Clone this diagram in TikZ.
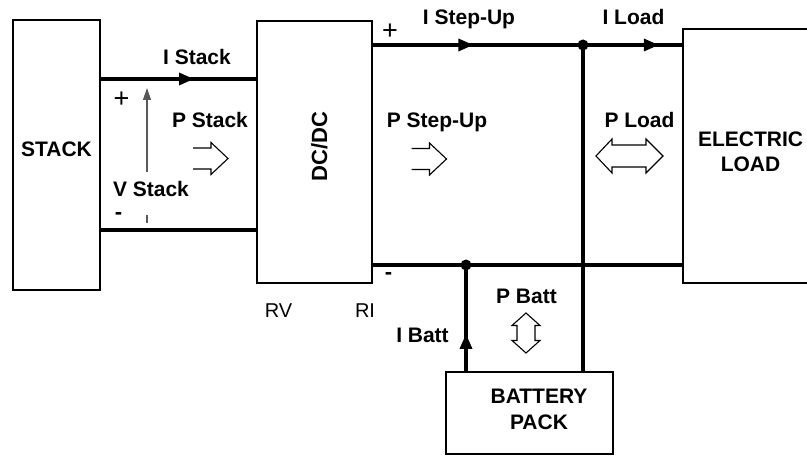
\documentclass[tikz,border=0pt]{standalone}
\usepackage{fontspec}
\setmainfont{Liberation Sans}
\usetikzlibrary{arrows.meta,decorations.markings}
\begin{document}
\begin{tikzpicture}[x=1pt,y=-1pt,
  box/.style={draw,line width=2pt,inner sep=0pt},
  wire/.style={line width=3.2pt},
  lbl/.style={font=\fontsize{21}{25}\selectfont\bfseries,anchor=base,inner sep=0pt},
  rlbl/.style={font=\fontsize{20}{24}\selectfont,anchor=base,inner sep=0pt},
  sgn/.style={font=\fontsize{27}{30}\selectfont,anchor=center,inner sep=0pt},
  msgn/.style={font=\fontsize{22}{26}\selectfont\bfseries,anchor=center,inner sep=0pt},
  dot/.style={circle,fill,inner sep=0pt,minimum size=11pt},
  tipat/.style={postaction={decorate},decoration={markings,mark=at position #1 with {\arrow{Triangle[length=15pt,width=12pt]}}}},
  hollow/.style={line width=1.1pt,line join=miter},
  thinv/.style={line width=1.1pt,black!65},
  pics/rarrow/.style={code={\draw[hollow] (0,-10.5) -- (18,-10.5) -- (18,-16) -- (35,0) -- (18,16) -- (18,10.5) -- (0,10.5);}}
]
\useasboundingbox (0,0) rectangle (807,457);
\clip (0,0) rectangle (807,457);

% boxes
\node[box,minimum width=87,minimum height=270] (stack) at (56.5,155) {};
\node[box,minimum width=115,minimum height=262] (dcdc) at (314.5,152) {};
\node[box,minimum width=134,minimum height=254] (load) at (750,156) {};
\node[box,minimum width=167,minimum height=82] (batt) at (529.5,413) {};

% box texts
\node[lbl] (tstack) at (56.5,157) {STACK};
\node[lbl,font=\fontsize{22}{26}\selectfont\bfseries,rotate=90,anchor=base] (tdcdc) at (327,146.5) {DC/DC};
\node[lbl] (tload1) at (750.5,147) {ELECTRIC};
\node[lbl] (tload2) at (750.5,172) {LOAD};
\node[lbl] (tbatt1) at (539,403) {BATTERY};
\node[lbl] (tbatt2) at (539,429) {PACK};

% junctions
\node[dot] (j1) at (583,45) {};
\node[dot] (j2) at (466,265) {};

% wires
\draw[wire,tipat=0.6] (stack.east |- 0,79) -- (dcdc.west |- 0,79);
\draw[wire] (stack.east |- 0,230) -- (dcdc.west |- 0,230);
\draw[wire,postaction={decorate},decoration={markings,
   mark=at position 0.325 with {\arrow{Triangle[length=15pt,width=12pt]}},
   mark=at position 0.925 with {\arrow{Triangle[length=15pt,width=12pt]}}}]
   (dcdc.east |- 0,45) -- (load.west |- 0,45);
\draw[wire] (dcdc.east |- 0,265) -- (load.west |- 0,265);
\draw[wire] (j1.center) -- (j1.center |- batt.north);
\draw[wire,tipat=0.35] (j2.center |- batt.north) -- (j2.center);

% V Stack arrow
\coordinate (vb) at (147,223);
\coordinate (vm1) at (147,215);
\coordinate (vm2) at (147,172);
\coordinate (vt) at (147,88);
\draw[thinv] (vb) -- (vm1);
\draw[thinv,-{Triangle[length=12pt,width=8pt]}] (vm2) -- (vt);

% labels
\node[lbl] (listack) at (197,65) {I Stack};
\node[lbl] (lpstack) at (210,128) {P Stack};
\node[lbl] (lvstack) at (151,197) {V Stack};
\node[sgn] (plus1) at (121.5,100) {+};
\node[msgn] (minus1) at (118.5,216) {-};
\node[lbl] (listep) at (469,25) {I Step-Up};
\node[lbl] (lpstep) at (437,128) {P Step-Up};
\node[sgn] (plus2) at (390,32) {+};
\node[msgn] (minus2) at (388.5,276) {-};
\node[rlbl] (lrv) at (278.5,318) {RV};
\node[rlbl] (lri) at (365,318) {RI};
\node[lbl] (liload) at (633.5,25) {I Load};
\node[lbl] (lpload) at (639.5,128) {P Load};
\node[lbl] (lpbatt) at (526.5,304) {P Batt};
\node[lbl] (libatt) at (422.5,343) {I Batt};

% hollow power arrows
\pic at (193,158.5) {rarrow};
\pic at (411.5,159) {rarrow};
\draw[hollow] (596,156) -- (612,139) -- (612,145) -- (646,145) -- (646,139) -- (663,156)
  -- (646,173) -- (646,167) -- (612,167) -- (612,173) -- cycle;
\draw[hollow] (526,313) -- (540,325.5) -- (535,325.5) -- (535,340.5) -- (540,340.5) -- (526,353)
  -- (512,340.5) -- (517,340.5) -- (517,325.5) -- (512,325.5) -- cycle;
\end{tikzpicture}
\end{document}
